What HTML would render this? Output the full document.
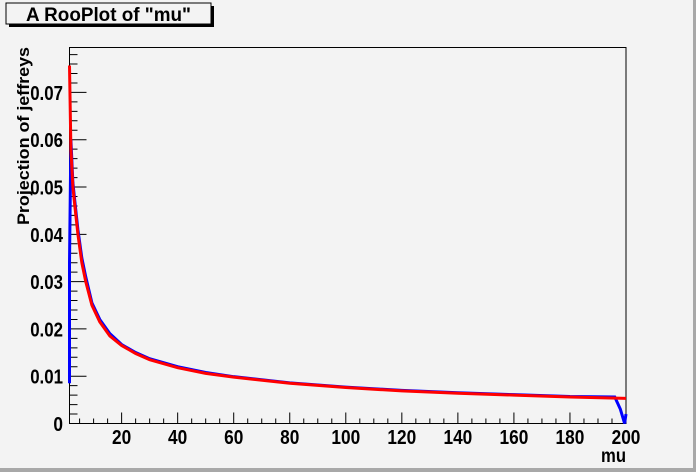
<!DOCTYPE html>
<html><head><meta charset="utf-8"><style>
body{margin:0;background:#f3f3f3;}
svg{display:block;font-family:"Liberation Sans",Arial,sans-serif;font-weight:bold;}
</style></head><body>
<svg id="c" width="696" height="472">
<rect x="0" y="0" width="696" height="472" fill="#f3f3f3"/>
<rect x="0" y="468" width="696" height="4" fill="#a8a8a8"/>
<rect x="693" y="0" width="3" height="472" fill="#a8a8a8"/>
<g>
<rect x="9" y="6" width="205" height="21" fill="#000"/>
<rect x="6" y="3" width="205" height="21" fill="#f3f3f3" stroke="#000" stroke-width="1"/>
<text x="26" y="21" font-size="19" textLength="165" lengthAdjust="spacingAndGlyphs">A RooPlot of "mu"</text>
</g>
<text transform="translate(29,225) rotate(-90)" font-size="17" textLength="178" lengthAdjust="spacingAndGlyphs">Projection of jeffreys</text>
<text x="601" y="462" font-size="19" textLength="25" lengthAdjust="spacingAndGlyphs">mu</text>
<g id="axes"></g>
<g id="series"></g>
</svg>
<script>
const xTicks=[20,40,60,80,100,120,140,160,180,200];
const yTicks=[0,0.01,0.02,0.03,0.04,0.05,0.06,0.07];
const yTickLabels=["0","0.01","0.02","0.03","0.04","0.05","0.06","0.07"];
const muRed=[1.4,1.9,2.6,3.3,4.4,5.8,7.2,9.4,12.2,15.8,20,25,30,40,50,60,80,100,120,140,160,180,200];
const valRed=[0.0757,0.058,0.050,0.046,0.040,0.034,0.030,0.025,0.0215,0.0185,0.0165,0.0148,0.0135,0.0118,0.0106,0.0098,0.0085,0.0076,0.0069,0.0064,0.0060,0.0056,0.0053];
const muBlue=[1.4,1.4,1.9,2.6,3.3,4.4,5.8,7.2,9.4,12.2,15.8,20,25,30,40,50,60,80,100,120,140,160,180,196,198,199.5,200];
const valBlue=[0.0085,0.034,0.060,0.051,0.047,0.041,0.035,0.031,0.0255,0.022,0.019,0.0167,0.015,0.0137,0.0120,0.0108,0.0099,0.0086,0.0077,0.0070,0.0065,0.0061,0.0057,0.0056,0.003,0.0,0.002];
const X0=69.5,X1=626,Y0=423.5,Y1=47.5,xmin=1.4,xmax=200,ymin=0,ymax=0.0795;
const sx=v=>X0+(v-xmin)/(xmax-xmin)*(X1-X0);
const sy=v=>Y0-(v-ymin)/(ymax-ymin)*(Y0-Y1);
const NS="http://www.w3.org/2000/svg";
const ax=document.getElementById('axes'),se=document.getElementById('series');
function mk(t,a,p){const e=document.createElementNS(NS,t);for(const k in a)e.setAttribute(k,a[k]);p.appendChild(e);return e;}
function tlen(s){let w=0;for(const ch of s)w+=(ch==='.')?4:9.6;return w;}
const frame=mk('rect',{x:X0,y:Y1,width:X1-X0,height:Y0-Y1,fill:'none',stroke:'#000','stroke-width':1},ax);


let d='';
for(let v=5;v<=200;v+=5){const x=sx(v);const L=(v%20===0)?11:5;d+=`M${x} ${Y0}V${Y0-L}`;}
for(let v=0;v<=0.0795;v+=0.002){const y=sy(v);const L=(Math.round(v*1000)%10===0)?17:8;d+=`M${X0} ${y}H${X0+L}`;}
const tk=mk('path',{d:d,stroke:'#000','stroke-width':1,fill:'none'},ax);


xTicks.forEach(v=>{const s=String(v);const w=tlen(s);const t=mk('text',{x:sx(v)-w/2,y:444,'font-size':20,textLength:w,lengthAdjust:'spacingAndGlyphs'},ax);t.textContent=s;

});
yTicks.forEach((v,i)=>{const s=yTickLabels[i];const w=tlen(s);const t=mk('text',{x:63-w,y:sy(v)+7.5,'font-size':20,textLength:w,lengthAdjust:'spacingAndGlyphs'},ax);t.textContent=s;

});
const pb=mk('polyline',{points:muBlue.map((m,i)=>sx(m)+','+sy(valBlue[i])).join(' '),fill:'none',stroke:'#0000ff','stroke-width':3},se);


const pr=mk('polyline',{points:muRed.map((m,i)=>sx(m)+','+sy(valRed[i])).join(' '),fill:'none',stroke:'#ff0000','stroke-width':3},se);


</script>
</body></html>
